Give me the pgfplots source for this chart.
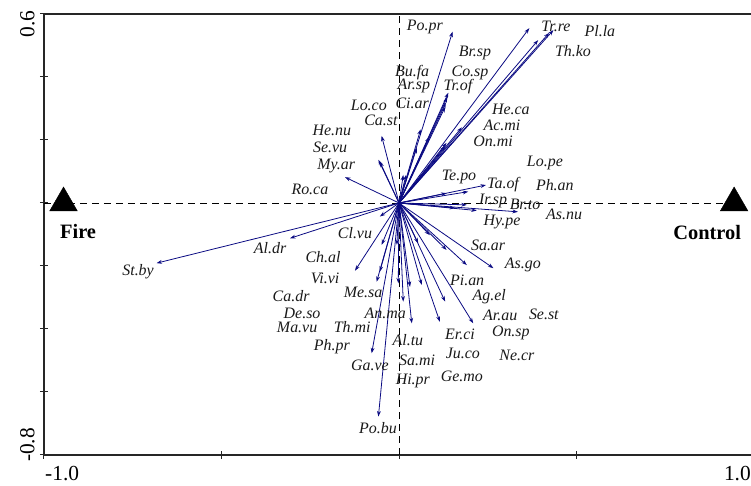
\documentclass[border=0pt]{standalone}
\usepackage{fontspec}
\setmainfont{Liberation Serif}
\usepackage{pgfplots}
\usepackage{pgfplotstable}
\pgfplotsset{compat=1.18}
\usetikzlibrary{arrows.meta}
\definecolor{arrowblue}{RGB}{10,10,130}

\pgfplotstableread{
x y u v
0 0 0.151 0.544
0 0 0.367 0.555
0 0 0.392 0.517
0 0 0.435 0.549
0 0 0.423 0.540
0 0 0.139 0.350
0 0 0.136 0.336
0 0 0.132 0.318
0 0 0.130 0.305
0 0 0.061 0.234
0 0 0.085 0.210
0 0 0.050 0.175
0 0 0.177 0.240
0 0 0.134 0.191
0 0 0.130 0.181
0 0 0.012 0.089
0 0 0.020 0.089
0 0 -0.049 0.213
0 0 -0.058 0.137
0 0 -0.054 0.131
0 0 -0.152 0.082
0 0 0.245 0.057
0 0 0.195 0.036
0 0 0.134 0.031
0 0 0.191 -0.006
0 0 0.219 -0.024
0 0 0.335 -0.028
0 0 0.158 -0.016
0 0 -0.683 -0.191
0 0 -0.307 -0.112
0 0 -0.054 -0.043
0 0 -0.124 -0.215
0 0 -0.054 -0.218
0 0 -0.063 -0.250
0 0 -0.002 -0.255
0 0 0.031 -0.266
0 0 0.064 -0.260
0 0 0.012 -0.313
0 0 0.130 -0.313
0 0 -0.049 -0.133
0 0 -0.006 -0.133
0 0 0.054 -0.128
0 0 0.087 -0.102
0 0 0.134 -0.149
0 0 0.191 -0.197
0 0 0.266 -0.207
0 0 0.036 -0.382
0 0 0.115 -0.377
0 0 0.209 -0.382
0 0 -0.077 -0.477
0 0 -0.058 -0.678
}\arrowtab

\pgfplotstableread{
x y lab
0.073 0.559 Po.pr
0.442 0.562 Tr.re
0.566 0.546 Pl.la
0.490 0.483 Th.ko
0.214 0.476 Br.sp
0.037 0.413 Bu.fa
0.200 0.413 Co.sp
0.042 0.371 Ar.sp
0.166 0.368 Tr.of
0.037 0.317 Ci.ar
-0.085 0.311 Lo.co
-0.051 0.263 Ca.st
0.315 0.298 He.ca
0.290 0.248 Ac.mi
0.265 0.197 On.mi
-0.189 0.229 He.nu
-0.194 0.178 Se.vu
-0.177 0.117 My.ar
-0.251 0.044 Ro.ca
0.411 0.127 Lo.pe
0.169 0.083 Te.po
0.293 0.060 Ta.of
0.439 0.057 Ph.an
0.265 0.006 Ir.sp
0.355 -0.006 Br.to
0.465 -0.035 As.nu
0.290 -0.060 Hy.pe
-0.124 -0.095 Cl.vu
-0.363 -0.143 Al.dr
-0.214 -0.171 Ch.al
0.251 -0.133 Sa.ar
0.349 -0.197 As.go
-0.735 -0.219 St.by
-0.208 -0.238 Vi.vi
0.192 -0.244 Pi.an
-0.101 -0.283 Me.sa
-0.304 -0.295 Ca.dr
0.254 -0.298 Ag.el
-0.273 -0.349 De.so
-0.039 -0.349 An.ma
0.285 -0.356 Ar.au
0.408 -0.352 Se.st
-0.287 -0.394 Ma.vu
-0.132 -0.394 Th.mi
0.172 -0.416 Er.ci
0.315 -0.413 On.sp
0.025 -0.435 Al.tu
-0.189 -0.457 Ph.pr
0.180 -0.479 Ju.co
0.332 -0.483 Ne.cr
0.051 -0.498 Sa.mi
-0.082 -0.514 Ga.ve
0.177 -0.549 Ge.mo
0.039 -0.565 Hi.pr
-0.059 -0.714 Po.bu
}\labtab

\pgfplotstableread{
x y lab
-0.904 -0.092 Fire
0.868 -0.095 Control
}\treattab

\begin{document}
\begin{tikzpicture}
\begin{axis}[
  scale only axis,
  width=710bp, height=441bp,
  xmin=-1, xmax=1, ymin=-0.8, ymax=0.6,
  clip=false,
  axis line style={line width=1.4bp, black!85},
  xtick={-1,-0.5,0,0.5,1},
  ytick={-0.8,-0.6,-0.4,-0.2,0,0.2,0.4,0.6},
  xticklabels={}, yticklabels={},
  xtick pos=bottom, ytick pos=left,
  tick align=center,
  major tick length=8bp,
  tick style={line width=1bp, black!85},
]
\coordinate (bl) at (rel axis cs:0,0);
\coordinate (tr) at (rel axis cs:1,1);

\addplot[black, line width=0.8bp, dash pattern=on 7bp off 5bp] coordinates {(-1,0) (0.945,0)};
\addplot[black, line width=0.8bp, dash pattern=on 7bp off 5bp] coordinates {(0,-0.8) (0,0.6)};

\addplot[arrowblue, line width=0.8bp,
  quiver={u=\thisrow{u}, v=\thisrow{v}},
  -{Stealth[length=5.5bp,width=3.8bp]}] table {\arrowtab};

\addplot[draw=none, mark=none, nodes near coords, point meta=explicit symbolic,
  nodes near coords align={center},
  nodes near coords style={anchor=center, inner sep=0pt, text=black!90,
    font=\fontsize{16}{16}\selectfont\itshape}]
  table[meta=lab] {\labtab};

\addplot[only marks, mark=triangle*, mark size=16bp, black] coordinates {(-0.945,0) (0.944,0)};

\addplot[draw=none, mark=none, nodes near coords, point meta=explicit symbolic,
  nodes near coords align={center},
  nodes near coords style={anchor=center, inner sep=0pt, text=black,
    font=\fontsize{20.5}{20.5}\selectfont\bfseries}]
  table[meta=lab] {\treattab};

\node[anchor=north west, inner sep=0pt, font=\fontsize{21.5}{21.5}\selectfont]
  at ([xshift=1bp,yshift=-11bp]axis cs:-1,-0.8) {-1.0};
\node[anchor=north east, inner sep=0pt, font=\fontsize{21.5}{21.5}\selectfont]
  at ([xshift=-3bp,yshift=-11bp]axis cs:1,-0.8) {1.0};
\node[rotate=90, anchor=south, inner sep=0pt, font=\fontsize{21.5}{21.5}\selectfont]
  at ([xshift=-9bp,yshift=-10bp]axis cs:-1,0.6) {0.6};
\node[rotate=90, anchor=south, inner sep=0pt, font=\fontsize{21.5}{21.5}\selectfont]
  at ([xshift=-9bp,yshift=10bp]axis cs:-1,-0.8) {-0.8};
\end{axis}
\pgfresetboundingbox
\path[use as bounding box] ([xshift=-44bp,yshift=-31bp]bl) rectangle ([xshift=-3bp,yshift=14bp]tr);
\end{tikzpicture}
\end{document}
